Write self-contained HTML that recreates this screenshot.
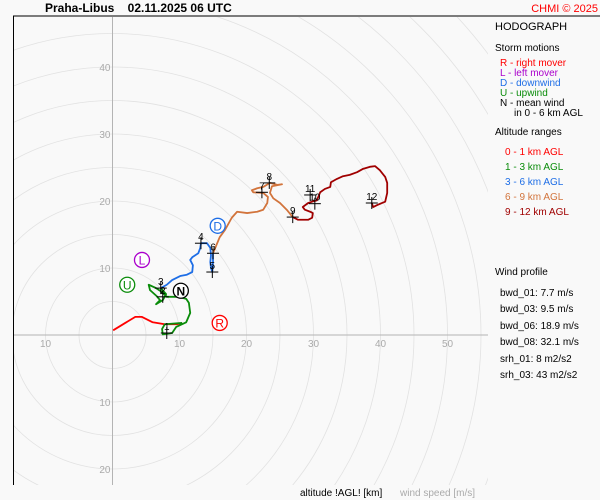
<!DOCTYPE html>
<html><head><meta charset="utf-8"><style>
html,body{margin:0;padding:0;width:600px;height:500px;overflow:hidden;background:#f9f9f9;}
svg{display:block;font-family:"Liberation Sans",sans-serif;}
</style></head><body>
<svg id="chart" width="600" height="500" viewBox="0 0 600 500">
<rect x="0" y="0" width="600" height="500" fill="#f9f9f9"/>
<defs><clipPath id="pc"><rect x="14" y="17" width="474" height="468"/></clipPath></defs>
<g id="grid" clip-path="url(#pc)"></g>
<g id="axes"></g>
<g id="traces" clip-path="url(#pc)"></g>
<g id="marks"></g>
<line x1="13" y1="16" x2="600" y2="16" stroke="#000" stroke-width="1"/>
<line x1="13.5" y1="16" x2="13.5" y2="485" stroke="#000" stroke-width="1"/>
<text x="45" y="12" font-size="12" font-weight="bold">Praha-Libus&#160;&#160;&#160;&#160;02.11.2025 06 UTC</text>
<text x="598" y="12" font-size="11" fill="#ff0000" text-anchor="end">CHMI © 2025</text>
<g font-size="10">
<text x="495" y="30" font-size="11">HODOGRAPH</text>
<text x="495" y="51">Storm motions</text>
<text x="500" y="66" fill="#ff0000">R - right mover</text>
<text x="500" y="76" fill="#aa00cc">L - left mover</text>
<text x="500" y="86" fill="#1e6ee6">D - downwind</text>
<text x="500" y="96" fill="#0a8c0a">U - upwind</text>
<text x="500" y="106">N - mean wind</text>
<text x="514" y="116">in 0 - 6 km AGL</text>
<text x="495" y="135">Altitude ranges</text>
<text x="505" y="155" fill="#ff0000">0 - 1 km AGL</text>
<text x="505" y="170" fill="#0a8c0a">1 - 3 km AGL</text>
<text x="505" y="185" fill="#1e6ee6">3 - 6 km AGL</text>
<text x="505" y="200" fill="#d2743c">6 - 9 km AGL</text>
<text x="505" y="215" fill="#a00000">9 - 12 km AGL</text>
<text x="495" y="275">Wind profile</text>
<text x="500" y="296">bwd_01: 7.7 m/s</text>
<text x="500" y="312">bwd_03: 9.5 m/s</text>
<text x="500" y="329">bwd_06: 18.9 m/s</text>
<text x="500" y="345">bwd_08: 32.1 m/s</text>
<text x="500" y="362">srh_01: 8 m2/s2</text>
<text x="500" y="378">srh_03: 43 m2/s2</text>
</g>
<text x="300" y="496" font-size="10">altitude !AGL! [km]</text>
<text x="400" y="496" font-size="10" fill="#aaa">wind speed [m/s]</text>
</svg>
<script>
const redU=[0.1,1.9,3.4,4.4,6.0,7.8,9.6,10.4];
const redV=[0.7,1.8,2.7,2.7,1.9,1.6,1.6,1.8];
const greenU=[10.4,7.8,7.4,7.5,8.9,9.5,11.0,11.6,11.4,11.0,9.8,8.1,7.4,6.5,5.4,5.6,6.6,7.1,6.5,7.5,8.0,7.2];
const greenV=[1.8,1.6,0.9,0.1,0.3,1.2,1.9,3.3,4.8,5.4,5.7,5.7,6.4,7.0,7.5,6.7,5.8,5.2,4.6,5.2,6.1,7.0];
const blueU=[7.2,8.1,8.9,10.1,11.1,11.9,12.0,11.6,11.9,12.8,13.1,13.2,14.1,14.6,14.7,14.6,14.7,14.9,15.0,15.0];
const blueV=[7.0,7.5,8.2,8.8,9.0,9.4,10.4,11.2,11.6,12.2,13.0,13.7,13.7,13.0,11.9,10.9,10.0,9.4,10.9,12.2];
const orangeU=[15.0,16.0,16.8,17.8,18.6,20.1,21.6,22.5,23.1,23.2,22.5,21.0,20.8,21.6,22.5,23.5,24.6,25.3,23.8,23.5,24.0,25.0,26.0,26.9];
const orangeV=[12.2,14.6,15.7,17.5,18.4,18.2,18.4,18.7,19.7,20.6,21.2,21.3,21.6,21.9,22.1,22.7,22.4,22.5,22.2,21.2,20.4,19.7,18.7,17.6];
const darkU=[26.9,27.7,29.2,29.8,29.9,29.5,28.7,28.4,29.2,29.8,30.5,31.0,31.7,32.5,32.6,33.5,34.4,35.4,36.5,37.4,38.4,39.2,39.9,40.7,41.0,41.0,40.7,39.5,38.9,38.7];
const darkV=[17.6,17.2,17.2,17.5,18.2,18.4,18.7,19.1,19.7,19.9,20.1,21.3,21.8,22.1,22.8,23.3,23.7,23.9,24.3,24.8,25.1,25.2,24.6,23.6,22.7,21.2,19.9,19.4,19.1,19.7];
const markLabels=["1","2","3","4","5","6","7","8","9","10","11","12"];
const markU=[8.1,7.5,7.2,13.2,14.9,15.0,22.3,23.4,26.9,30.2,29.5,38.7];
const markV=[0.3,5.7,7.0,13.7,9.4,12.2,21.3,22.7,17.6,19.6,20.9,19.7];
const stormLabels=["R","L","D","U","N"];
const stormU=[16.0,4.4,15.7,2.2,10.2];
const stormV=[1.8,11.2,16.3,7.5,6.6];
const stormColors=["#ff0000","#aa00cc","#1e6ee6","#0a8c0a","#000"];
const xTicks=[-10,10,20,30,40,50];
const yTicks=[40,30,20,10,-10,-20];

const X0=112.5,Y0=335,S=6.7;
const sx=u=>X0+u*S, sy=v=>Y0-v*S;
const NS="http://www.w3.org/2000/svg";
function mk(tag,attrs,parent){const e=document.createElementNS(NS,tag);for(const k in attrs)e.setAttribute(k,attrs[k]);parent.appendChild(e);return e;}
const grid=document.getElementById('grid'),axes=document.getElementById('axes'),traces=document.getElementById('traces'),marks=document.getElementById('marks');
for(let r=5;r<=80;r+=5){
  const c=mk('circle',{cx:X0,cy:Y0,r:r*S,fill:'none',stroke:'#e2e2e2','stroke-width':0.8},grid);
  
  
}
const ha=mk('line',{x1:14,y1:Y0,x2:488,y2:Y0,stroke:'#b4b4b4'},axes);


const va=mk('line',{x1:X0,y1:17,x2:X0,y2:485,stroke:'#b4b4b4'},axes);


xTicks.forEach(t=>{
  const e=mk('text',{x:sx(t),y:Y0+12,'font-size':10,fill:'#aaa','text-anchor':'middle'},axes);e.textContent=Math.abs(t);
  
  
});
yTicks.forEach(t=>{
  const e=mk('text',{x:X0-2,y:sy(t)+4,'font-size':10,fill:'#aaa','text-anchor':'end'},axes);e.textContent=Math.abs(t);
  
  
});
function trace(U,V,col,name){
  const p=mk('polyline',{points:U.map((u,i)=>sx(u)+','+sy(V[i])).join(' '),fill:'none',stroke:col,'stroke-width':1.8,'stroke-linejoin':'round'},traces);
  
  
}
trace(redU,redV,'#ff0000','trace-0-1km');
trace(greenU,greenV,'#0a8c0a','trace-1-3km');
trace(blueU,blueV,'#1e6ee6','trace-3-6km');
trace(orangeU,orangeV,'#d2743c','trace-6-9km');
trace(darkU,darkV,'#a00000','trace-9-12km');
markLabels.forEach((l,i)=>{
  const x=sx(markU[i]),y=sy(markV[i]);
  const g=mk('g',{},marks);
  
  
  mk('line',{x1:x-6,y1:y,x2:x+6,y2:y,stroke:'#000'},g);
  mk('line',{x1:x,y1:y-6,x2:x,y2:y+6,stroke:'#000'},g);
  const t=mk('text',{x:x,y:y-3,'font-size':10,'text-anchor':'middle',fill:'#000'},g);t.textContent=l;
});
stormLabels.forEach((l,i)=>{
  const x=sx(stormU[i]),y=sy(stormV[i]);
  const g=mk('g',{},marks);
  
  
  mk('circle',{cx:x,cy:y,r:7.5,fill:'#fff',stroke:stormColors[i],'stroke-width':1.3},g);
  const t=mk('text',{x:x,y:y+4.5,'font-size':12,'text-anchor':'middle',fill:stormColors[i],'font-weight':l==='N'?'bold':'normal'},g);t.textContent=l;
});
</script>
</body></html>
